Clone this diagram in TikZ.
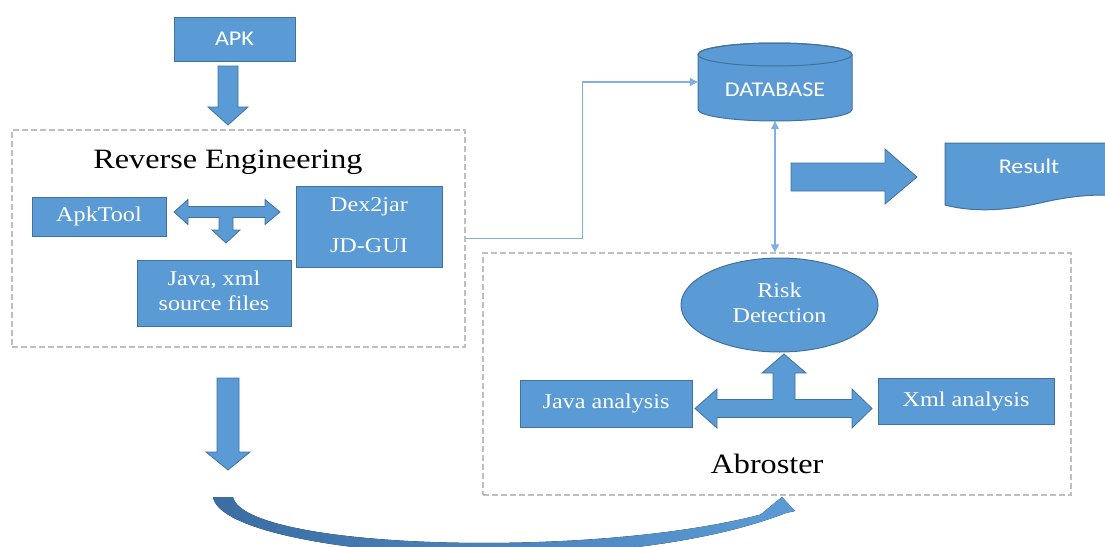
\documentclass[tikz,border=0pt]{standalone}
\usepackage{fontspec}
\setmainfont{Liberation Serif}
\newfontfamily\calibrifont{Carlito}
\usetikzlibrary{arrows.meta,shapes.geometric}

\definecolor{boxblue}{HTML}{5B9BD5}
\definecolor{boxedge}{HTML}{41719C}
\definecolor{curvedark}{HTML}{3A6DA3}
\definecolor{framegray}{HTML}{BFBFBF}
\definecolor{linkblue}{HTML}{7FB0DF}

% slightly widened lettering, one or more centred lines
\newcommand{\widetext}[1]{\scalebox{1.15}[1]{\begin{tabular}{@{}c@{}}#1\end{tabular}}}
\newcommand{\wideline}[1]{\scalebox{1.15}[1]{#1}}

\tikzset{
  bluebox/.style={draw=boxedge, fill=boxblue, line width=1pt, inner sep=0pt,
    text=white, font=\fontsize{21}{25}\selectfont},
  sansbox/.style={bluebox, font=\calibrifont\fontsize{21}{25}\selectfont},
  frame/.style={draw=framegray, dash pattern=on 6pt off 3pt, line width=1.3pt, inner sep=0pt},
  blockarrow/.style={draw=boxedge, fill=boxblue, line width=0.8pt, line join=miter},
  heading/.style={font=\fontsize{28}{32}\selectfont, text=black, inner sep=0pt},
  link/.style={draw=linkblue, line width=1.2pt},
  linktip/.tip={Triangle[length=8pt, width=8pt]},
}

\begin{document}
\begin{tikzpicture}[x=1pt, y=-1pt]
\useasboundingbox (0,0) rectangle (1105,546);

% ---------- reverse engineering stage ----------
\node[sansbox, minimum width=121pt, minimum height=44pt] (apk) at (234.5,39) {\wideline{APK}};

\node[frame, minimum width=453pt, minimum height=217pt] (re) at (238.5,238.5) {};
\node[heading, anchor=base] (retitle) at (228,168) {\wideline{Reverse Engineering}};

\node[bluebox, minimum width=134pt, minimum height=39pt] (apktool) at (99,216.5) {\widetext{ApkTool}};
\node[bluebox, minimum width=146pt, minimum height=81pt] (dex) at (369,226.5) {\widetext{Dex2jar\\[16pt]JD-GUI}};
\node[bluebox, minimum width=154pt, minimum height=66pt] (src) at (214,293) {\widetext{Java, xml\\source files}};

% APK into the reverse engineering stage
\path[blockarrow] (218,66) -- (238,66) -- (238,107) -- (248,107) -- (228,125)
  -- (208,107) -- (218,107) -- cycle;

% ApkTool <-> Dex2jar, down to the sources
\path[blockarrow] (174,212) -- (188,199.5) -- (188,206.5) -- (265,206.5) -- (265,199.5)
  -- (280,212) -- (265,224.5) -- (265,217.5) -- (233,217.5) -- (233,230) -- (240,230)
  -- (226,243) -- (212,230) -- (219,230) -- (219,217.5) -- (188,217.5) -- (188,224.5) -- cycle;

% ---------- database and result ----------
\node[minimum width=154pt, minimum height=78pt, inner sep=0pt] (db) at (775,82) {};
\path[draw=boxedge, fill=boxblue, line width=1pt]
  (698,54.5) -- (698,109.5) arc[start angle=180, end angle=0, x radius=77, y radius=11.5]
  -- (852,54.5) arc[start angle=0, end angle=-180, x radius=77, y radius=11.5] -- cycle;
\draw[boxedge, line width=1pt] (775,54.5) ellipse[x radius=77, y radius=11.5];
\node[text=white, font=\calibrifont\fontsize{21}{25}\selectfont, inner sep=0pt] (dblabel) at (775,90) {\wideline{DATABASE}};

\path[blockarrow] (791,163) -- (885,163) -- (885,149) -- (917,177) -- (885,204)
  -- (885,191) -- (791,191) -- cycle;

\fill[boxblue] (1105,143) -- (945,143) -- (945,205)
  .. controls (975,213) and (1010,210) .. (1040,203)
  .. controls (1070,196) and (1090,195) .. (1105,195) -- cycle;
\draw[boxedge, line width=1pt] (1105,143) -- (945,143) -- (945,205)
  .. controls (975,213) and (1010,210) .. (1040,203)
  .. controls (1070,196) and (1090,195) .. (1105,195);
\node[text=white, font=\calibrifont\fontsize{21}{25}\selectfont, inner sep=0pt] (res) at (1029,166) {\wideline{Result}};

% ---------- abroster stage ----------
\node[frame, minimum width=588pt, minimum height=242pt] (ab) at (777,374) {};
\node[heading, anchor=base] (abtitle) at (767,473) {\wideline{Abroster}};

\node[bluebox, ellipse, minimum width=197pt, minimum height=94pt] (risk) at (779.5,305) {\widetext{Risk\\Detection}};
\node[bluebox, minimum width=172pt, minimum height=47pt] (java) at (606,403.5) {\widetext{Java analysis}};
\node[bluebox, minimum width=176pt, minimum height=46pt] (xml) at (966,401) {\widetext{Xml analysis}};

\path[blockarrow] (695,408.5) -- (717,389) -- (717,399.5) -- (773,399.5) -- (773,373)
  -- (762,373) -- (784,354) -- (806,373) -- (795,373) -- (795,399.5) -- (852,399.5)
  -- (852,389) -- (872,408.5) -- (852,428) -- (852,417.5) -- (717,417.5) -- (717,428) -- cycle;

% ---------- connectors ----------
\draw[link, -linktip] (re.east) -- ++(117,0) |- (db.west);
\draw[link, linktip-linktip] (db.south) -- (db.south |- ab.north);

% from the sources on to the analysis
\path[blockarrow] (217,378) -- (239,378) -- (239,452) -- (250,452) -- (228,470)
  -- (206,452) -- (217,452) -- cycle;

% tapered curved arrow sweeping back up to the abroster stage
\fill[left color=curvedark, right color=boxblue]
  (213,497) .. controls (222,555) and (600,585) .. (786,513)
  -- (795,511) -- (782,497) -- (760,515) -- (770,512)
  .. controls (600,560) and (245,550) .. (233,497) -- cycle;
\end{tikzpicture}
\end{document}
